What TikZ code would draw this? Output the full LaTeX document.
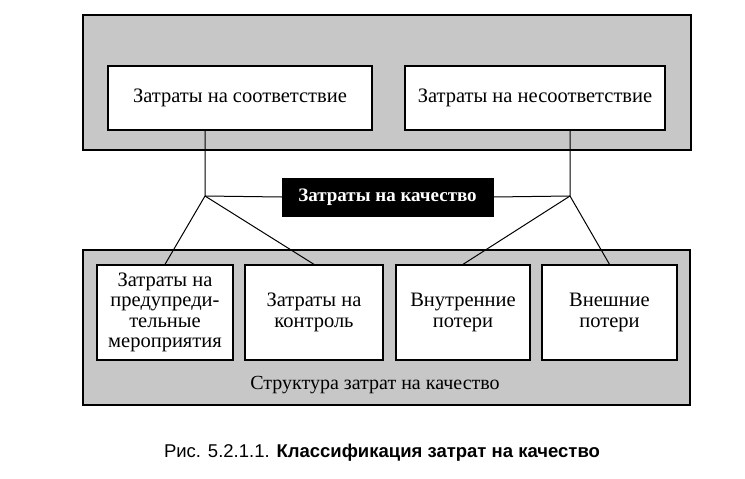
\documentclass[tikz,border=0pt]{standalone}
\usepackage{fontspec}
\setmainfont{Liberation Serif}
\newfontfamily\capfont{Liberation Sans}
\begin{document}
\begin{tikzpicture}[x=1pt,y=-1pt,
  panel/.style={draw=black,line width=1.3pt,fill=black!22},
  box/.style={draw=black,line width=1.3pt,fill=white,align=center,inner sep=1pt,font=\fontsize{20.5}{20.5}\selectfont},
  conn/.style={line width=1pt}]
\useasboundingbox (0,0) rectangle (745,479);
\fill[white] (0,0) rectangle (745,479);
\node[panel,minimum width=608pt,minimum height=135pt] (top) at (387,82.5) {};
\node[panel,minimum width=607pt,minimum height=155pt] (bot) at (386.5,327.5) {};
\node[box,minimum width=264pt,minimum height=64pt] (sootv) at (240,98) {Затраты на соответствие};
\node[box,minimum width=260pt,minimum height=64pt] (nesootv) at (535,98) {Затраты на несоответствие};
\node[draw=black,fill=black,text=white,minimum width=211pt,minimum height=38pt,font=\fontsize{19}{21}\selectfont\bfseries] (kach) at (387.5,197) {Затраты на качество};
\node[box,minimum width=136pt,minimum height=95pt] (b1) at (165,312.5) {Затраты на\\предупреди-\\тельные\\мероприятия};
\node[box,minimum width=138pt,minimum height=95pt] (b2) at (314,312.5) {Затраты на\\контроль};
\node[box,minimum width=134pt,minimum height=95pt] (b3) at (463,312.5) {Внутренние\\потери};
\node[box,minimum width=135pt,minimum height=95pt] (b4) at (609.5,312.5) {Внешние\\потери};
\node[font=\fontsize{20}{22}\selectfont] (struct) at (375,385) {Структура затрат на качество};
\node[font=\capfont\fontsize{18.5}{20}\selectfont] (cap) at (382,453) {Рис. 5.2.1.1. \textbf{Классификация затрат на качество}};
\coordinate (jl) at (205,196);
\coordinate (jr) at (570,196);
\draw[conn] (sootv.south -| jl) -- (jl) -- (kach.west);
\draw[conn] (nesootv.south -| jr) -- (jr) -- (kach.east);
\draw[conn] (jl) -- (b1.north);
\draw[conn] (jl) -- (b2.north);
\draw[conn] (jr) -- (b3.north);
\draw[conn] (jr) -- (b4.north);
\end{tikzpicture}
\end{document}
